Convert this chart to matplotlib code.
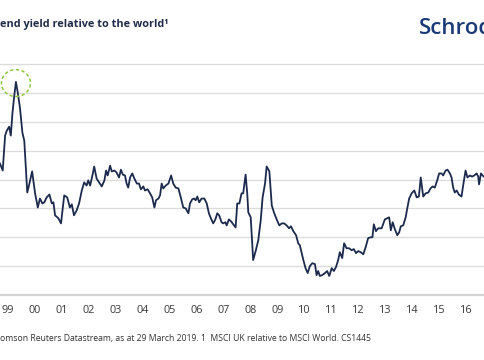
import matplotlib
matplotlib.use("Agg")
import matplotlib.pyplot as plt
from matplotlib.patches import Ellipse

plt.rcParams['font.family'] = ['Open Sans', 'DejaVu Sans']

dates = [
    1998.72, 1998.82, 1998.91, 1998.97, 1999.06, 1999.12, 1999.18, 1999.24, 1999.31, 1999.38,
    1999.46, 1999.55, 1999.62, 1999.73, 1999.81, 1999.91, 2000.02, 2000.12, 2000.20, 2000.29,
    2000.36, 2000.45, 2000.55, 2000.64, 2000.70, 2000.76, 2000.88, 2000.98, 2001.10, 2001.21,
    2001.31, 2001.38, 2001.46, 2001.56, 2001.65, 2001.75, 2001.84, 2001.93, 2001.99, 2002.06,
    2002.16, 2002.21, 2002.30, 2002.39, 2002.49, 2002.59, 2002.65, 2002.71, 2002.80, 2002.86,
    2002.96, 2003.04, 2003.13, 2003.20, 2003.27, 2003.35, 2003.41, 2003.47, 2003.54, 2003.62,
    2003.70, 2003.79, 2003.87, 2003.94, 2004.03, 2004.09, 2004.19, 2004.28, 2004.36, 2004.44,
    2004.50, 2004.59, 2004.65, 2004.71, 2004.77, 2004.86, 2004.96, 2005.06, 2005.14, 2005.23,
    2005.33, 2005.43, 2005.51, 2005.60, 2005.70, 2005.76, 2005.84, 2005.91, 2005.97, 2006.03,
    2006.10, 2006.19, 2006.29, 2006.38, 2006.46, 2006.55, 2006.62, 2006.70, 2006.77, 2006.84,
    2006.93, 2006.99, 2007.07, 2007.12, 2007.20, 2007.28, 2007.36, 2007.45, 2007.51, 2007.59,
    2007.67, 2007.73, 2007.82, 2007.88, 2007.92, 2008.01, 2008.10, 2008.20, 2008.29, 2008.38,
    2008.45, 2008.54, 2008.60, 2008.70, 2008.79, 2008.87, 2008.97, 2009.07, 2009.16, 2009.25,
    2009.34, 2009.43, 2009.50, 2009.59, 2009.69, 2009.77, 2009.83, 2009.96, 2010.04, 2010.12,
    2010.20, 2010.29, 2010.39, 2010.45, 2010.51, 2010.57, 2010.66, 2010.76, 2010.84, 2010.92,
    2011.01, 2011.09, 2011.17, 2011.25, 2011.31, 2011.40, 2011.47, 2011.56, 2011.65, 2011.75,
    2011.83, 2011.91, 2011.99, 2012.09, 2012.18, 2012.27, 2012.36, 2012.46, 2012.52, 2012.57,
    2012.65, 2012.73, 2012.86, 2012.98, 2013.07, 2013.14, 2013.20, 2013.27, 2013.35, 2013.44,
    2013.51, 2013.57, 2013.66, 2013.75, 2013.81, 2013.88, 2013.97, 2014.07, 2014.16, 2014.24,
    2014.31, 2014.40, 2014.49, 2014.59, 2014.67, 2014.75, 2014.83, 2014.92, 2014.99, 2015.08,
    2015.14, 2015.23, 2015.30, 2015.39, 2015.45, 2015.51, 2015.57, 2015.64, 2015.72, 2015.82,
    2015.88, 2015.97, 2016.04, 2016.13, 2016.21, 2016.29, 2016.38, 2016.44, 2016.47, 2016.54,
    2016.60, 2016.69,
]

relative_yield = [
    1.055, 1.031, 1.152, 1.169, 1.183, 1.152, 1.228, 1.283, 1.338, 1.300,
    1.248, 1.162, 1.134, 0.955, 0.986, 1.028, 0.952, 0.903, 0.934, 0.917,
    0.921, 0.938, 0.948, 0.917, 0.921, 0.876, 0.866, 0.848, 0.945, 0.938,
    0.903, 0.914, 0.876, 0.893, 0.917, 0.962, 0.990, 0.979, 0.997, 0.979,
    1.021, 1.045, 1.003, 0.990, 0.976, 0.997, 1.031, 1.014, 1.048, 1.028,
    1.031, 1.024, 1.007, 1.034, 1.017, 1.014, 0.986, 0.972, 1.007, 1.021,
    1.003, 0.986, 0.986, 0.966, 0.976, 0.962, 0.966, 0.952, 0.938, 0.903,
    0.928, 0.934, 0.945, 0.986, 0.969, 0.979, 0.986, 1.014, 0.986, 0.972,
    0.969, 0.934, 0.903, 0.900, 0.883, 0.917, 0.931, 0.934, 0.928, 0.941,
    0.921, 0.934, 0.934, 0.917, 0.883, 0.862, 0.848, 0.862, 0.883, 0.876,
    0.852, 0.848, 0.852, 0.841, 0.862, 0.855, 0.845, 0.834, 0.917, 0.917,
    0.952, 0.952, 1.017, 0.952, 0.886, 0.869, 0.721, 0.755, 0.790, 0.859,
    0.938, 0.986, 1.045, 1.028, 0.910, 0.886, 0.862, 0.841, 0.848, 0.848,
    0.841, 0.831, 0.838, 0.821, 0.807, 0.779, 0.772, 0.721, 0.693, 0.676,
    0.700, 0.710, 0.707, 0.669, 0.683, 0.666, 0.669, 0.676, 0.683, 0.666,
    0.693, 0.683, 0.697, 0.721, 0.748, 0.728, 0.779, 0.762, 0.762, 0.755,
    0.759, 0.745, 0.752, 0.748, 0.741, 0.766, 0.797, 0.800, 0.800, 0.845,
    0.821, 0.831, 0.831, 0.862, 0.866, 0.869, 0.824, 0.852, 0.828, 0.807,
    0.817, 0.838, 0.841, 0.869, 0.900, 0.934, 0.952, 0.962, 0.938, 0.941,
    1.007, 0.941, 0.952, 0.955, 0.969, 0.976, 0.972, 0.997, 1.021, 1.021,
    1.014, 1.031, 1.034, 1.021, 1.007, 0.972, 0.955, 0.962, 0.948, 0.941,
    0.979, 1.031, 1.007, 1.014, 1.010, 1.014, 1.021, 1.010, 0.983, 1.021,
    1.014, 1.007,
]

tick_years = list(range(1999, 2017))
tick_labels = ['99', '00', '01', '02', '03', '04', '05', '06', '07', '08',
               '09', '10', '11', '12', '13', '14', '15', '16']
grid_values = [0.6, 0.7, 0.8, 0.9, 1.0, 1.1, 1.2, 1.3, 1.4]

title = "end yield relative to the world\u00b9"
footer = "omson Reuters Datastream, as at 29 March 2019. 1  MSCI UK relative to MSCI World. CS1445"

W, H = 485, 360
fig = plt.figure(figsize=(W / 100, H / 100), dpi=100)
fig.patch.set_facecolor('white')
ax = fig.add_axes([0, (H - 295) / H, 1, (295 - 64) / H])
ax.set_xlim(1998.72, 2016.69)
ax.set_ylim(0.6, 1.4)

for g in grid_values[1:]:
    ax.axhline(g, color='#dcdcdc', lw=1.0, zorder=1, clip_on=False)
ax.axhline(0.6, color='#d4d4d4', lw=1.6, zorder=1, clip_on=False)

ax.plot(dates, relative_yield, color='#1c2a4e', lw=1.3, zorder=3, solid_joinstyle='round')

# peak highlight circle
i_peak = relative_yield.index(max(relative_yield))
circ = Ellipse((dates[i_peak], relative_yield[i_peak] - 0.004), width=29 / 27, height=27 / 290,
               fill=False, edgecolor='#8cc63e', lw=1.1, linestyle=(0, (2.2, 1.6)), zorder=4)
ax.add_patch(circ)

for s in ax.spines.values():
    s.set_visible(False)
ax.set_yticks([])
ax.set_xticks(tick_years)
ax.set_xticklabels(tick_labels, fontsize=7.8, color='#3a3a3a')
ax.tick_params(axis='x', length=0, pad=7.5)

fig.text(0 / W, 1 - 25 / H, title, fontsize=7.8, fontweight='bold', color='#1f2b48',
         ha='left', va='center')
fig.text(419 / W, 1 - 29 / H, "Schroders", fontsize=16, fontweight='semibold', color='#1b3a78',
         ha='left', va='center')
fig.text(0 / W, 1 - 338 / H, footer, fontsize=6.2, color='#333333', ha='left', va='center')

fig.savefig('out.png', dpi=100, facecolor='white')
